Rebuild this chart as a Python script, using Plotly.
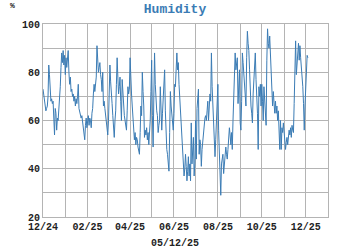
import pandas as pd
import plotly.graph_objects as go

# Daily relative humidity (%), one list per month, starting 2024-12-01
dec24 = [73, 70, 67, 65, 64, 65, 66, 70, 83, 79, 72, 68, 69, 67, 68, 60, 54, 65, 63, 56,
         61, 60, 64, 69, 74, 82, 88, 84, 89, 83, 87]
jan25 = [79, 86, 82, 85, 89, 80, 75, 78, 72, 73, 70, 71, 68, 70, 66, 69, 67, 70, 75, 65,
         64, 63, 61, 62, 60, 57, 55, 52, 58, 61, 57]
feb25 = [60, 62, 58, 61, 60, 57, 63, 65, 71, 75, 72, 74, 78, 91, 85, 80, 82, 84, 79, 77,
         72, 80, 66, 68, 65, 62, 60, 57]
mar25 = [54, 60, 70, 83, 76, 73, 67, 62, 56, 53, 60, 64, 75, 86, 78, 71, 74, 78, 68, 60,
         77, 70, 66, 62, 60, 58, 56, 64, 74, 71, 73]
apr25 = [86, 72, 71, 66, 62, 58, 52, 55, 50, 53, 52, 49, 47, 46, 55, 66, 62, 80, 72, 66,
         53, 56, 54, 57, 52, 55, 50, 54, 60, 72]
may25 = [85, 62, 49, 70, 88, 75, 68, 64, 62, 55, 58, 60, 74, 65, 56, 63, 68, 75, 81, 64,
         52, 48, 46, 42, 39, 55, 72, 66, 62, 58, 56]
jun25 = [63, 75, 74, 82, 88, 81, 84, 75, 69, 62, 55, 51, 46, 42, 37, 40, 46, 41, 35, 39,
         45, 37, 42, 35, 59, 42, 48, 53, 37, 42]
jul25 = [60, 44, 65, 70, 73, 46, 52, 50, 41, 48, 52, 57, 59, 61, 62, 60, 64, 68, 60, 66,
         71, 68, 88, 74, 68, 62, 56, 45, 52, 60, 66]
aug25 = [75, 56, 46, 38, 29, 42, 44, 46, 38, 42, 45, 49, 46, 44, 48, 53, 57, 54, 50, 55,
         48, 60, 70, 78, 88, 81, 84, 86, 67, 74, 81]
sep25 = [59, 56, 68, 88, 84, 80, 74, 70, 66, 86, 97, 92, 89, 81, 71, 66, 63, 59, 71, 76,
         81, 88, 77, 70, 63, 48, 74, 70, 75, 66]
oct25 = [75, 68, 60, 74, 67, 62, 58, 85, 98, 92, 90, 95, 88, 80, 75, 66, 72, 68, 63, 68,
         63, 66, 60, 64, 58, 48, 60, 48, 57, 55, 59]
nov25 = [54, 52, 48, 51, 53, 50, 55, 56, 54, 57, 53, 58, 56, 55, 67, 81, 93, 79, 85, 87,
         92, 85, 91, 86, 82, 80, 74, 67, 56, 66]
dec25 = [74, 85, 87, 86]

start_date = "2024-12-01"
humidity = dec24 + jan25 + feb25 + mar25 + apr25 + may25 + jun25 + jul25 + aug25 + sep25 + oct25 + nov25 + dec25
dates = pd.date_range(start_date, periods=len(humidity), freq="D")

title_text = "Humidity"
y_unit = "%"
date_label = "05/12/25"

fig = go.Figure()
fig.add_trace(go.Scatter(x=dates, y=humidity, mode="lines",
                         line=dict(color="#3b7cb5", width=1)))

W, H = 350, 250
L, R, T, B = 43, 22, 24, 33
pw, ph = W - L - R, H - T - B


def px(xp):
    return (xp - L) / pw


def py(yp):
    return (H - B - yp) / ph


grid = "#b4b4b4"
tickfont = dict(family="Liberation Mono", size=10, color="#222222")
fig.update_layout(
    width=W, height=H,
    margin=dict(l=L, r=R, t=T, b=B),
    paper_bgcolor="white", plot_bgcolor="white",
    showlegend=False,
    title=dict(text="<b>%s</b>" % title_text, x=0.5, xref="container", xanchor="center",
               y=1 - 8 / H, yref="container", yanchor="middle",
               font=dict(family="Liberation Mono", size=13, color="#3b7cb5")),
    annotations=[
        dict(text="<b>%s</b>" % y_unit, x=px(12), y=py(6), xref="paper", yref="paper",
             xanchor="center", yanchor="middle", showarrow=False,
             font=dict(family="Liberation Mono", size=8, color="#222222")),
        dict(text="<b>%s</b>" % date_label, x=px(175), y=py(243), xref="paper", yref="paper",
             xanchor="center", yanchor="middle", showarrow=False,
             font=dict(family="Liberation Mono", size=10, color="#222222")),
    ],
)
fig.update_xaxes(
    type="date", range=["2024-12-01", "2026-01-01"],
    tick0="2024-12-01", dtick="M2", tickformat="<b>%m/%y</b>",
    showgrid=True, gridcolor=grid, gridwidth=1,
    minor=dict(dtick="M1", showgrid=True, gridcolor=grid, gridwidth=1),
    showline=True, linecolor=grid, mirror=True, ticks="",
    tickfont=tickfont, zeroline=False,
)
fig.update_yaxes(
    range=[20, 100], dtick=20, tick0=20,
    showgrid=True, gridcolor=grid, gridwidth=1,
    minor=dict(dtick=10, showgrid=True, gridcolor=grid, gridwidth=1),
    showline=True, linecolor=grid, mirror=True, ticks="",
    tickfont=tickfont, zeroline=False, tickprefix="<b>", ticksuffix="</b>",
)
fig.write_html("out.html")
